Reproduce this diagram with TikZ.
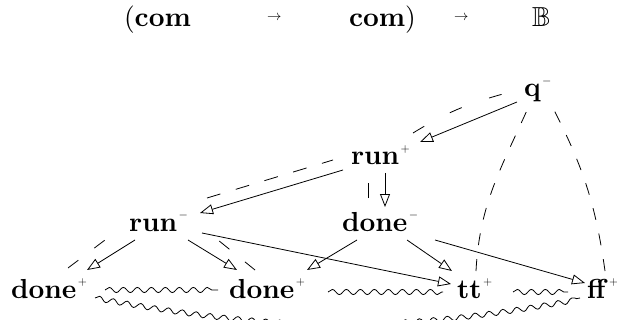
\documentclass[tikz,border=0pt]{standalone}
\usepackage{fontspec}
\usepackage{amssymb}
\usepackage{graphicx}
\usetikzlibrary{arrows.meta,decorations.pathmorphing}
\newcommand\bigtxt[1]{\scalebox{2.75}{\fontsize{10}{12}\selectfont #1}}
\newcommand\supm[1]{\kern1.5pt\raisebox{12.5pt}{\fontsize{11.5}{12}\selectfont$#1$}}
\newcommand\tarrow{{\fontsize{15}{18}\selectfont$\rightarrow$}}
\begin{document}
\begin{tikzpicture}[x=1pt,y=1pt,
  lbl/.style={anchor=base west,inner sep=0pt,outer sep=0pt},
  mv/.style={line width=0.8pt,-{Triangle[open,length=13pt,width=10pt]}},
  jp/.style={line width=0.8pt,dash pattern=on 13pt off 15pt},
  wv/.style={line width=0.8pt,decorate,decoration={snake,amplitude=2.6pt,segment length=14pt}}]
\useasboundingbox (0,0) rectangle (617,-320);
\clip (0,0) rectangle (617,-320);
% title
\node[lbl] (t1) at (124,-27) {\bigtxt{(\textbf{com}}};
\node[lbl] (t2) at (267,-21) {\tarrow};
\node[lbl] (t3) at (349,-27) {\bigtxt{\textbf{com})}};
\node[lbl] (t4) at (454,-21) {\tarrow};
\node[lbl] (t5) at (532,-27) {\bigtxt{$\mathbb{B}$}};
% moves
\node[lbl] (q)   at (524,-97)  {\bigtxt{\textbf{q}}\supm{-}};
\node[lbl] (rp)  at (351,-165) {\bigtxt{\textbf{run}}\supm{+}};
\node[lbl] (dm)  at (342,-231) {\bigtxt{\textbf{done}}\supm{-}};
\node[lbl] (rm)  at (129,-231) {\bigtxt{\textbf{run}}\supm{-}};
\node[lbl] (dp1) at (11,-298)  {\bigtxt{\textbf{done}}\supm{+}};
\node[lbl] (dp2) at (229,-298) {\bigtxt{\textbf{done}}\supm{+}};
\node[lbl] (tt)  at (457,-298) {\bigtxt{\textbf{tt}}\supm{+}};
\node[lbl] (ff)  at (587,-298) {\bigtxt{\textbf{ff}}\supm{+}};
% solid arrows
\draw[mv] ([shift={(-7,-5)}]q.base west) -- ([shift={(69,23)}]rp.base west);
\draw[mv] ([shift={(-8,-5)}]rp.base west) -- ([shift={(71,18)}]rm.base west);
\draw[mv] ([shift={(34,-8)}]rp.base west) -- ([shift={(43,24)}]dm.base west);
\draw[mv] ([shift={(6,-9)}]rm.base west) -- ([shift={(76,28)}]dp1.base west);
\draw[mv] ([shift={(59,-9)}]rm.base west) -- ([shift={(8,28)}]dp2.base west);
\draw[mv] ([shift={(73,-2)}]rm.base west) -- ([shift={(-6,14)}]tt.base west);
\draw[mv] ([shift={(15,-9)}]dm.base west) -- ([shift={(78,28)}]dp2.base west);
\draw[mv] ([shift={(65,-9)}]dm.base west) -- ([shift={(-5,27)}]tt.base west);
\draw[mv] ([shift={(93,-9)}]dm.base west) -- ([shift={(-2,15)}]ff.base west);
% justification pointers
\draw[jp,dash pattern=on 13pt off 29pt] ([shift={(62,32)}]rp.base west) to[bend left=8] ([shift={(-21,3)}]q.base west);
\draw[jp,dash pattern=on 14pt off 16pt] ([shift={(78,33)}]rm.base west) -- ([shift={(-18,5)}]rp.base west);
\draw[jp,dash pattern=on 15pt off 20pt] ([shift={(26,33)}]dm.base west) -- ([shift={(17,-10)}]rp.base west);
\draw[jp,dash pattern=on 13pt off 20pt] ([shift={(57,30)}]dp1.base west) -- ([shift={(-24,-9)}]rm.base west);
\draw[jp,dash pattern=on 13pt off 20pt] ([shift={(26,28)}]dp2.base west) -- ([shift={(89,-9)}]rm.base west);
\draw[jp,dash pattern=on 12pt off 14pt] ([shift={(19,27)}]tt.base west) to[out=87,in=-114] ([shift={(4,-11)}]q.base west);
\draw[jp,dash pattern=on 12pt off 14pt] ([shift={(18,27)}]ff.base west) to[out=98,in=-63] ([shift={(29,-11)}]q.base west);
% wavy lines
\draw[wv] ([shift={(94,8)}]dp1.base west) -- ([shift={(-11,8)}]dp2.base west);
\draw[wv] ([shift={(84,0)}]dp1.base west) to[bend right=10.5] ([shift={(-7,0)}]ff.base west);
\draw[wv] ([shift={(99,6)}]dp2.base west) -- ([shift={(-14,6)}]tt.base west);
\draw[wv] ([shift={(56,6)}]tt.base west) -- ([shift={(-19,6)}]ff.base west);
\end{tikzpicture}
\end{document}
